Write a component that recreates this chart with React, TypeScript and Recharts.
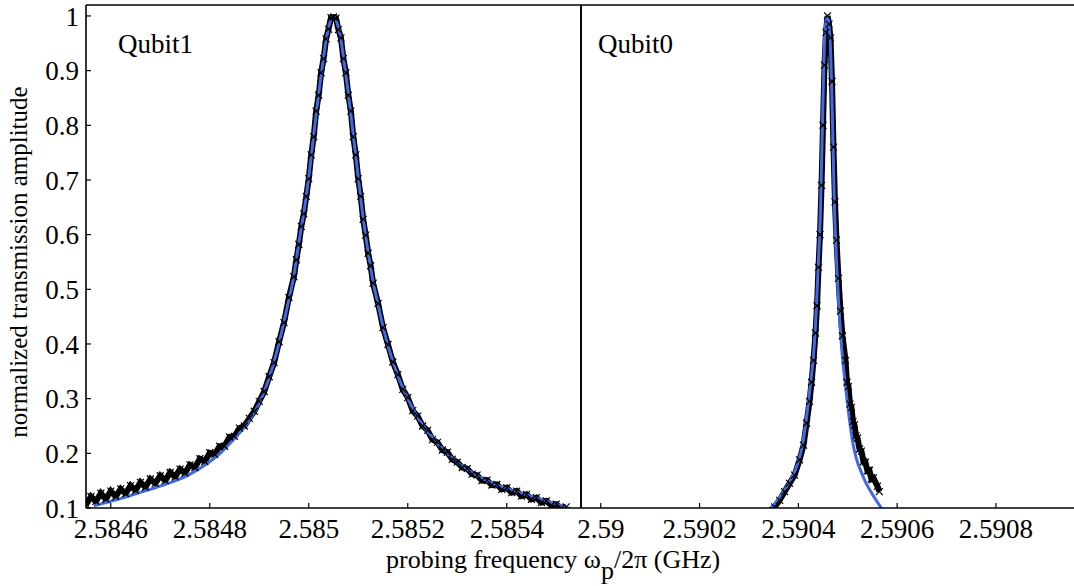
import { ComposedChart, Line, XAxis, YAxis } from "recharts";

const FONT = "'Liberation Serif', 'Times New Roman', Times, serif";
const BLUE = "#4169e1";

const yTicks = [0.1, 0.2, 0.3, 0.4, 0.5, 0.6, 0.7, 0.8, 0.9, 1];

// Qubit1 (left panel)
const q1Ticks = [2.5846, 2.5848, 2.585, 2.5852, 2.5854];
const q1Measured: [number, number][] = [
  [2.58455, 0.106], [2.58456, 0.121], [2.58457, 0.112], [2.58458, 0.127],
  [2.58459, 0.116], [2.5846, 0.131], [2.58461, 0.121], [2.58462, 0.135],
  [2.58463, 0.126], [2.58464, 0.141], [2.58465, 0.132], [2.58466, 0.147],
  [2.58467, 0.138], [2.58468, 0.153], [2.58469, 0.145], [2.5847, 0.159],
  [2.58471, 0.15], [2.58472, 0.165], [2.58473, 0.157], [2.58474, 0.171],
  [2.58475, 0.164], [2.58476, 0.179], [2.58477, 0.174], [2.58478, 0.19],
  [2.58479, 0.185], [2.5848, 0.201], [2.58481, 0.198], [2.58482, 0.213],
  [2.58483, 0.213], [2.58484, 0.23], [2.58485, 0.231], [2.58486, 0.246],
  [2.58487, 0.25], [2.58488, 0.264], [2.58489, 0.277], [2.5849, 0.295],
  [2.58491, 0.313], [2.58492, 0.34], [2.58493, 0.366], [2.58494, 0.404],
  [2.58495, 0.439], [2.58496, 0.485], [2.58497, 0.523],
  [2.584975, 0.554], [2.58498, 0.582], [2.584985, 0.615], [2.58499, 0.638],
  [2.584995, 0.67], [2.585, 0.702], [2.585005, 0.746], [2.58501, 0.779],
  [2.585015, 0.826], [2.58502, 0.855], [2.585025, 0.896], [2.58503, 0.922],
  [2.585035, 0.958], [2.58504, 0.976], [2.585045, 0.997], [2.58505, 0.998],
  [2.585055, 0.996], [2.58506, 0.975], [2.585065, 0.96], [2.58507, 0.922],
  [2.585075, 0.896], [2.58508, 0.855], [2.585085, 0.826], [2.58509, 0.779],
  [2.585095, 0.746], [2.5851, 0.702], [2.585105, 0.67], [2.58511, 0.628],
  [2.585115, 0.599], [2.58512, 0.566], [2.585125, 0.543], [2.58513, 0.511],
  [2.58514, 0.474], [2.58515, 0.43], [2.58516, 0.399], [2.58517, 0.367],
  [2.58518, 0.344], [2.58519, 0.317], [2.5852, 0.302], [2.58521, 0.278],
  [2.58522, 0.268], [2.58523, 0.25], [2.58524, 0.242], [2.58525, 0.225],
  [2.58526, 0.22], [2.58527, 0.206], [2.58528, 0.202], [2.58529, 0.189],
  [2.5853, 0.184], [2.58531, 0.174], [2.58532, 0.172], [2.58533, 0.162],
  [2.58534, 0.16], [2.58535, 0.15], [2.58536, 0.151], [2.58537, 0.142],
  [2.58538, 0.143], [2.58539, 0.134], [2.5854, 0.137], [2.58541, 0.128],
  [2.58542, 0.131], [2.58543, 0.122], [2.58544, 0.125], [2.58545, 0.116],
  [2.58546, 0.119], [2.58547, 0.11], [2.58548, 0.113], [2.58549, 0.105],
  [2.5855, 0.107], [2.58551, 0.1], [2.58552, 0.102],
];
const q1Fit: [number, number][] = [
  [2.584566, 0.104], [2.584598, 0.112], [2.58463, 0.12], [2.584661, 0.129],
  [2.584693, 0.138], [2.584728, 0.149], [2.58476, 0.162], [2.584794, 0.181],
  [2.584821, 0.2], [2.584849, 0.226], [2.584875, 0.254], [2.58489, 0.275],
  [2.5849, 0.292], [2.58491, 0.313], [2.58492, 0.338], [2.58493, 0.368],
  [2.58494, 0.402], [2.58495, 0.441], [2.58496, 0.482], [2.58497, 0.525],
  [2.58498, 0.585], [2.58499, 0.64], [2.585, 0.705], [2.58501, 0.782],
  [2.58502, 0.858], [2.58503, 0.925], [2.585035, 0.955], [2.58504, 0.978],
  [2.585045, 0.994], [2.58505, 1.0], [2.585055, 0.993], [2.58506, 0.978],
  [2.585065, 0.957], [2.58507, 0.925], [2.58508, 0.858], [2.58509, 0.782],
  [2.5851, 0.705], [2.58511, 0.63], [2.58512, 0.568], [2.58513, 0.514],
  [2.58514, 0.472], [2.58515, 0.432], [2.58516, 0.397], [2.58518, 0.342],
  [2.5852, 0.3], [2.58522, 0.266], [2.58524, 0.24], [2.58526, 0.218],
  [2.58528, 0.2], [2.5853, 0.183], [2.58532, 0.171], [2.58534, 0.159],
  [2.58536, 0.15], [2.58538, 0.142], [2.5854, 0.136], [2.58542, 0.13],
  [2.58544, 0.124], [2.58546, 0.119], [2.58548, 0.113], [2.5855, 0.107],
  [2.58552, 0.101], [2.585528, 0.099],
];

// Qubit0 (right panel)
const q0Ticks = [2.59, 2.5902, 2.5904, 2.5906, 2.5908];
const q0Measured: [number, number][] = [
  [2.5903519, 0.102], [2.590362, 0.114], [2.5903721, 0.13], [2.5903822, 0.145],
  [2.5903923, 0.16], [2.5904024, 0.188], [2.5904105, 0.215], [2.5904166, 0.255],
  [2.5904226, 0.295], [2.5904267, 0.33], [2.5904307, 0.37], [2.5904347, 0.42],
  [2.5904378, 0.47], [2.5904408, 0.54], [2.5904438, 0.6], [2.5904469, 0.69],
  [2.5904499, 0.8], [2.5904529, 0.91], [2.590456, 0.97], [2.590459, 1.0],
  [2.590462, 0.985], [2.5904651, 0.96], [2.5904681, 0.88], [2.5904711, 0.76],
  [2.5904741, 0.66], [2.5904772, 0.59], [2.5904812, 0.52], [2.5904853, 0.46],
  [2.5904893, 0.415], [2.5904954, 0.37], [2.5904984, 0.33], [2.5905014, 0.322],
  [2.5905045, 0.29], [2.5905075, 0.284], [2.5905105, 0.258], [2.5905135, 0.252],
  [2.5905166, 0.232], [2.5905196, 0.228], [2.5905237, 0.208], [2.5905277, 0.204],
  [2.5905318, 0.185], [2.5905358, 0.184], [2.5905398, 0.168], [2.5905438, 0.169],
  [2.5905479, 0.153], [2.5905519, 0.155], [2.59056, 0.14], [2.590564, 0.13],
];
const q0Fit: [number, number][] = [
  [2.5903418, 0.099], [2.5903485, 0.104], [2.5903681, 0.128], [2.5903889, 0.159],
  [2.5904091, 0.22], [2.5904226, 0.312], [2.5904327, 0.404], [2.5904394, 0.526],
  [2.5904448, 0.648], [2.5904495, 0.831], [2.5904529, 0.953], [2.5904584, 1.0],
  [2.5904644, 0.953], [2.5904685, 0.831], [2.5904731, 0.648], [2.5904786, 0.526],
  [2.5904867, 0.404], [2.5904968, 0.312], [2.5905101, 0.22], [2.5905303, 0.159],
  [2.5905499, 0.125], [2.5905681, 0.1],
];

const toRows = (pts: [number, number][]) => pts.map(([x, y]) => ({ x, y }));

const Cross = (props: any) => {
  const { cx, cy, index } = props;
  if (cx == null || cy == null) return <g key={index} />;
  const r = 3.5;
  return (
    <path
      key={index}
      d={`M${cx - r},${cy - r}L${cx + r},${cy + r}M${cx + r},${cy - r}L${cx - r},${cy + r}`}
      stroke="#000"
      strokeWidth={1.2}
      fill="none"
    />
  );
};

const axisLine = { stroke: "#000", strokeWidth: 1.6 };
const tickLine = { stroke: "#000", strokeWidth: 1.2 };
const tickText = { fill: "#000", fontSize: 27, fontFamily: FONT };

function Panel({
  left,
  width,
  plotOffset,
  domain,
  ticks,
  measured,
  fit,
  yLabels,
}: {
  left: number;
  width: number;
  plotOffset: number;
  domain: [number, number];
  ticks: number[];
  measured: [number, number][];
  fit: [number, number][];
  yLabels: boolean;
}) {
  return (
    <div style={{ position: "absolute", left, top: 0, overflow: "visible" }}>
      <ComposedChart
        width={width}
        height={586}
        margin={{ top: 4, right: 2, bottom: 0, left: yLabels ? 0 : plotOffset - 1 }}
        style={{ overflow: "visible" }}
      >
        <XAxis
          xAxisId="b"
          type="number"
          dataKey="x"
          domain={domain}
          ticks={ticks}
          interval={0}
          allowDataOverflow
          height={78}
          tickSize={-5}
          tickMargin={16}
          axisLine={axisLine}
          tickLine={tickLine}
          tick={tickText}
          tickFormatter={(v: number) => String(v)}
        />
        <XAxis
          xAxisId="t"
          orientation="top"
          type="number"
          dataKey="x"
          domain={domain}
          ticks={ticks}
          interval={0}
          allowDataOverflow
          height={1}
          tickSize={-5}
          axisLine={axisLine}
          tickLine={tickLine}
          tick={false}
        />
        <YAxis
          yAxisId="l"
          type="number"
          domain={[0.1, 1.02]}
          ticks={yTicks}
          interval={0}
          allowDataOverflow
          width={yLabels ? plotOffset : 1}
          tickSize={-5}
          tickMargin={12}
          axisLine={axisLine}
          tickLine={tickLine}
          tick={yLabels ? tickText : false}
          tickFormatter={(v: number) => String(v)}
        />
        <YAxis
          yAxisId="r"
          orientation="right"
          type="number"
          domain={[0.1, 1.02]}
          ticks={yTicks}
          interval={0}
          allowDataOverflow
          width={1}
          tickSize={-5}
          axisLine={axisLine}
          tickLine={tickLine}
          tick={false}
        />
        <Line
          xAxisId="b"
          yAxisId="l"
          data={toRows(measured)}
          dataKey="y"
          type="linear"
          stroke="#000"
          strokeWidth={6}
          dot={Cross}
          isAnimationActive={false}
        />
        <Line
          xAxisId="b"
          yAxisId="l"
          data={toRows(fit)}
          dataKey="y"
          type="monotone"
          stroke={BLUE}
          strokeWidth={3}
          dot={false}
          isAnimationActive={false}
        />
      </ComposedChart>
    </div>
  );
}

export default function App() {
  return (
    <div
      style={{
        position: "absolute",
        left: 0,
        top: 0,
        width: 1074,
        height: 586,
        overflow: "hidden",
        background: "#fff",
      }}
    >
      <Panel
        left={0}
        width={584}
        plotOffset={86}
        domain={[2.58455, 2.58555]}
        ticks={q1Ticks}
        measured={q1Measured}
        fit={q1Fit}
        yLabels
      />
      <Panel
        left={578}
        width={500}
        plotOffset={3}
        domain={[2.58996, 2.59096]}
        ticks={q0Ticks}
        measured={q0Measured}
        fit={q0Fit}
        yLabels={false}
      />
      <svg
        width={1074}
        height={586}
        style={{ position: "absolute", left: 0, top: 0, pointerEvents: "none" }}
        fontFamily={FONT}
        fill="#000"
      >
        <text x={118} y={53} fontSize={27}>Qubit1</text>
        <text x={598} y={53} fontSize={27}>Qubit0</text>
        <text
          transform="translate(27,262) rotate(-90)"
          textAnchor="middle"
          fontSize={25}
        >
          normalized transmission amplitude
        </text>
        <text x={386} y={568} fontSize={26}>
          probing frequency ω<tspan dy={10.5}>p</tspan>
          <tspan dy={-10.5}>/2π (GHz)</tspan>
        </text>
      </svg>
    </div>
  );
}
